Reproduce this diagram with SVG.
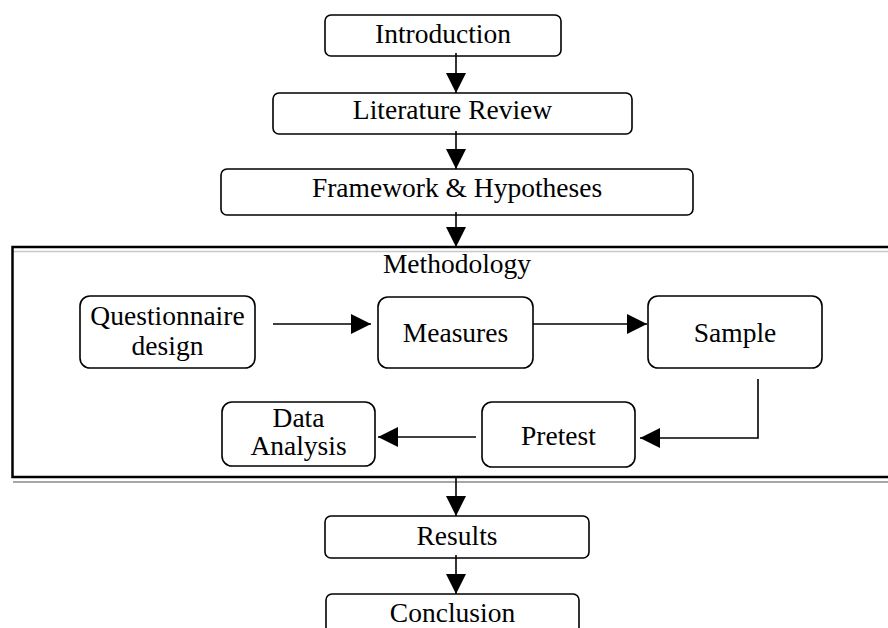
<svg xmlns="http://www.w3.org/2000/svg" width="888" height="628" viewBox="0 0 888 628">
<style>
.box{fill:#fff;stroke:#000;stroke-width:1.6}
.t{font-family:"Liberation Serif","Times New Roman",serif;font-size:27.5px;fill:#000;text-anchor:middle}
.c{fill:none;stroke:#000;stroke-width:1.6}
</style>
<defs>
<marker id="ah" markerUnits="userSpaceOnUse" markerWidth="20" markerHeight="20" refX="20" refY="10" orient="auto">
<path d="M0,0 L20,10 L0,20 Z" fill="#000"/>
</marker>
</defs>
<rect width="888" height="628" fill="#fff"/>
<g id="methodology">
<line x1="13" y1="251.5" x2="888" y2="251.5" stroke="#c8c8c8" stroke-width="1.5"/>
<line x1="13" y1="482" x2="888" y2="482" stroke="#8a8a8a" stroke-width="1.5"/>
<path d="M888,247 H12.5 V477 H888" fill="none" stroke="#000" stroke-width="2.5"/>
<text class="t" x="457" y="273">Methodology</text>
</g>
<g id="introduction"><rect class="box" x="325" y="15" width="236" height="41" rx="6"/><text class="t" x="443" y="43">Introduction</text></g>
<g id="literature"><rect class="box" x="273" y="93" width="359" height="41" rx="6"/><text class="t" x="452.5" y="119">Literature Review</text></g>
<g id="framework"><rect class="box" x="221" y="169" width="472" height="46" rx="6"/><text class="t" x="457" y="197">Framework &amp; Hypotheses</text></g>
<g id="questionnaire"><rect class="box" x="80" y="296" width="175" height="72" rx="10"/><text class="t" x="167.5" y="325">Questionnaire</text><text class="t" x="167.5" y="355">design</text></g>
<g id="measures"><rect class="box" x="378" y="297" width="155" height="71" rx="10"/><text class="t" x="455.5" y="342">Measures</text></g>
<g id="sample"><rect class="box" x="648" y="296" width="174" height="72" rx="10"/><text class="t" x="735" y="342">Sample</text></g>
<g id="pretest"><rect class="box" x="482" y="402" width="153" height="65" rx="10"/><text class="t" x="558.5" y="445">Pretest</text></g>
<g id="dataanalysis"><rect class="box" x="222" y="402" width="153" height="64" rx="10"/><text class="t" x="298.5" y="427">Data</text><text class="t" x="298.5" y="455">Analysis</text></g>
<g id="results"><rect class="box" x="325" y="516" width="264" height="42" rx="6"/><text class="t" x="457" y="545">Results</text></g>
<g id="conclusion"><rect class="box" x="326" y="594" width="253" height="50" rx="6"/><text class="t" x="452.5" y="622">Conclusion</text></g>
<g id="connectors">
<line class="c" x1="456" y1="53" x2="456" y2="93" marker-end="url(#ah)"/>
<line class="c" x1="456" y1="131" x2="456" y2="169" marker-end="url(#ah)"/>
<line class="c" x1="456" y1="212" x2="456" y2="247" marker-end="url(#ah)"/>
<line class="c" x1="273" y1="324" x2="371" y2="324" marker-end="url(#ah)"/>
<line class="c" x1="533" y1="324" x2="647" y2="324" marker-end="url(#ah)"/>
<polyline class="c" points="758,379 758,438 640,438" marker-end="url(#ah)"/>
<line class="c" x1="476" y1="437" x2="378" y2="437" marker-end="url(#ah)"/>
<line class="c" x1="456" y1="477" x2="456" y2="516" marker-end="url(#ah)"/>
<line class="c" x1="456" y1="555" x2="456" y2="594" marker-end="url(#ah)"/>
</g>
</svg>
